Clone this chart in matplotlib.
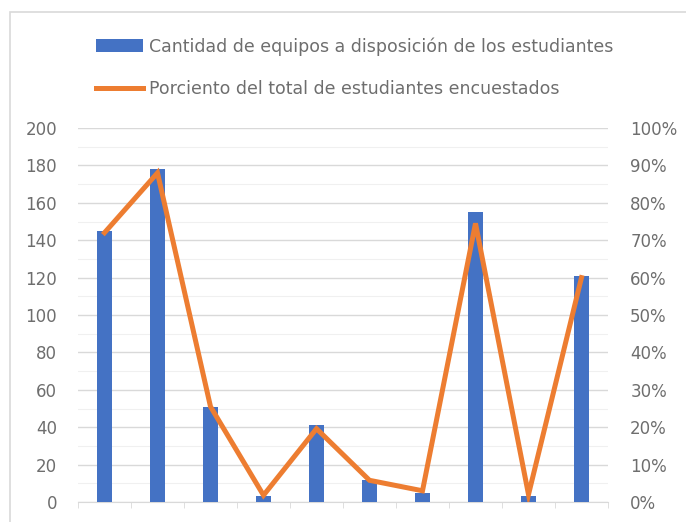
import numpy as np
import matplotlib
matplotlib.use("Agg")
import matplotlib.pyplot as plt
from matplotlib.patches import Rectangle, Patch
from matplotlib.lines import Line2D
from matplotlib.ticker import FuncFormatter, MultipleLocator

# values (no category labels are shown)
equipos = [145, 178, 51, 3, 41, 12, 5, 155, 3, 121]
porciento = [72, 88, 25.5, 1.8, 19.6, 5.8, 3, 74.5, 2, 60]

label_bar = "Cantidad de equipos a disposición de los estudiantes"
label_line = "Porciento del total de estudiantes encuestados"

blue = "#4472C4"
orange = "#ED7D31"
grey_txt = "#6e6e6e"
grid_c = "#d9d9d9"

W, H = 686, 522
fig = plt.figure(figsize=(W / 100, H / 100), dpi=100)

# chart border (partly cropped in the reference)
fig.patches.append(Rectangle((10 / W, -0.1), 1.2, 1 - 12 / H + 0.1,
                             transform=fig.transFigure, fill=False,
                             edgecolor=grid_c, linewidth=1.2))

ax = fig.add_axes([78 / W, 20 / H, 530 / W, 374 / H])
x = np.arange(len(equipos))
ax.bar(x, equipos, width=0.3, color=blue, zorder=3)
ax.set_xlim(-0.5, len(equipos) - 0.5)
ax.set_ylim(0, 200)
ax.yaxis.set_major_locator(MultipleLocator(20))
ax.yaxis.set_minor_locator(MultipleLocator(10))
ax.grid(axis="y", which="major", color=grid_c, linewidth=1.0, zorder=0)
ax.grid(axis="y", which="minor", color="#f0f0f0", linewidth=0.8, zorder=0)
for s in ["top", "right", "left"]:
    ax.spines[s].set_visible(False)
ax.spines["bottom"].set_color(grid_c)
ax.set_xticks([])
ax.set_xticks(np.arange(-0.5, len(equipos)), minor=True)
ax.tick_params(axis="x", which="minor", length=4, color=grid_c)
ax.tick_params(axis="y", which="both", length=0, labelsize=12,
               labelcolor=grey_txt, pad=15)

ax2 = ax.twinx()
ax2.plot(x, porciento, color=orange, linewidth=3.6, solid_joinstyle="miter",
         zorder=4)
ax2.set_ylim(0, 100)
ax2.yaxis.set_major_locator(MultipleLocator(10))
ax2.yaxis.set_major_formatter(FuncFormatter(lambda v, p: f"{v:.0f}%"))
for s in ["top", "right", "left", "bottom"]:
    ax2.spines[s].set_visible(False)
ax2.tick_params(axis="y", length=0, labelsize=12, labelcolor=grey_txt, pad=16)

handles = [Patch(facecolor=blue, edgecolor="none"),
           Line2D([0], [0], color=orange, linewidth=3.6)]
fig.legend(handles, [label_bar, label_line], loc="upper left",
           bbox_to_anchor=(96 / W, 1 - 37 / H), frameon=False,
           fontsize=12.5, labelcolor=grey_txt, handlelength=2.7,
           handleheight=0.7, handletextpad=0.35, labelspacing=1.4,
           borderaxespad=0, borderpad=0)

fig.savefig("out.png", dpi=100)
